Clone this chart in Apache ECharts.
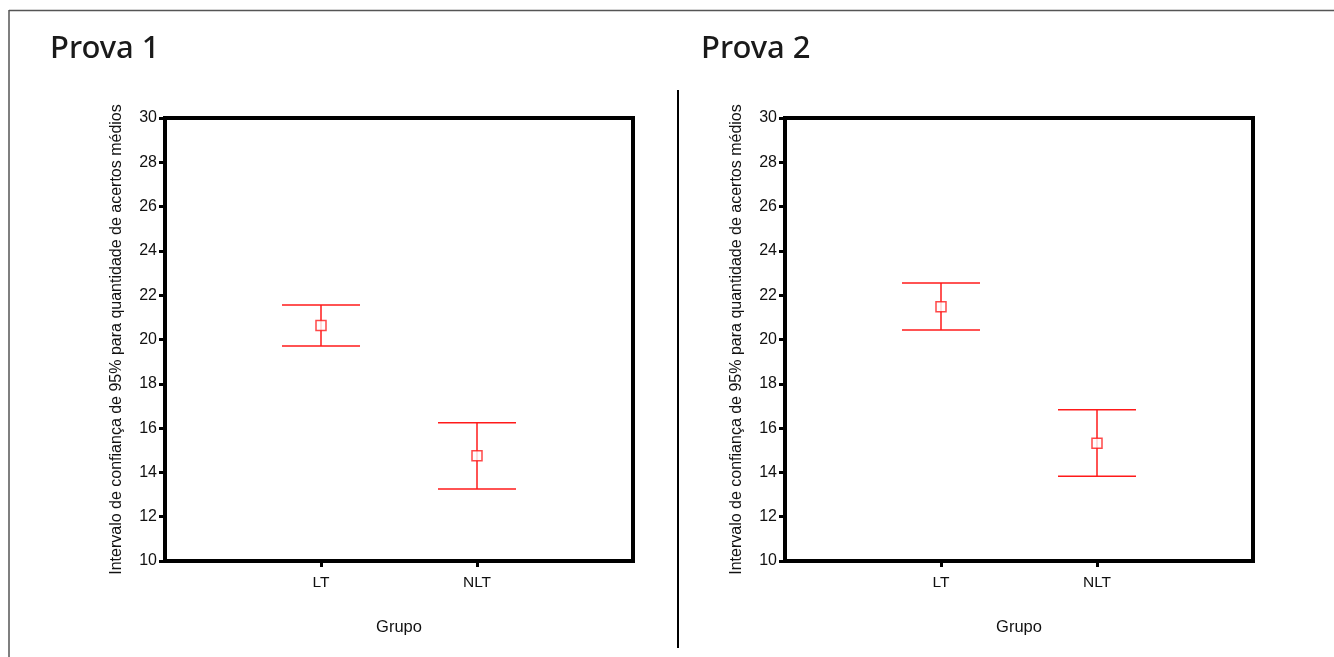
<!DOCTYPE html>
<html>
<head>
<meta charset="utf-8">
<script src="https://cdn.jsdelivr.net/npm/echarts@6/dist/echarts.min.js"></script>
<style>
html,body{margin:0;padding:0;background:#fff;}
#c{width:1334px;height:657px;}
</style>
</head>
<body>
<div id="c"></div>
<script>
const categories = ['', 'LT', 'NLT', ''];
const groups = ['LT', 'NLT'];
const yTicks = [10, 12, 14, 16, 18, 20, 22, 24, 26, 28, 30];
const prova1Mean = [20.63, 14.75];
const prova1Lower = [19.71, 13.25];
const prova1Upper = [21.56, 16.24];
const prova2Mean = [21.48, 15.32];
const prova2Lower = [20.43, 13.83];
const prova2Upper = [22.55, 16.83];
const titles = ['Prova 1', 'Prova 2'];
const yName = 'Intervalo de confiança de 95% para quantidade de acertos médios';
const xName = 'Grupo';

const chart = echarts.init(document.getElementById('c'), null, {renderer: 'canvas'});
const font = 'Liberation Sans, Arial, sans-serif';
const red = '#ff1a1a';

function errData(lower, upper) {
  return groups.map((g, i) => [g, lower[i], upper[i]]);
}
function meanData(mean) {
  return groups.map((g, i) => [g, mean[i]]);
}
function renderErr(params, api) {
  const x = api.value(0);
  const lo = api.coord([x, api.value(1)]);
  const hi = api.coord([x, api.value(2)]);
  const half = api.size([1, 0])[0] * 0.25;
  const style = {stroke: red, lineWidth: 1.5, fill: null};
  return {
    type: 'group',
    children: [
      {type: 'line', shape: {x1: lo[0], y1: lo[1], x2: hi[0], y2: hi[1]}, style},
      {type: 'line', shape: {x1: hi[0] - half, y1: hi[1], x2: hi[0] + half, y2: hi[1]}, style},
      {type: 'line', shape: {x1: lo[0] - half, y1: lo[1], x2: lo[0] + half, y2: lo[1]}, style}
    ]
  };
}
function xAxis(idx) {
  return {
    type: 'category', gridIndex: idx, data: categories, boundaryGap: false,
    name: xName, nameLocation: 'middle', nameGap: 58,
    nameTextStyle: {fontFamily: font, fontSize: 16.5, color: '#111'},
    axisLine: {show: false},
    axisTick: {show: true, length: 6, interval: (i, v) => v !== '', lineStyle: {color: '#000', width: 3}},
    axisLabel: {interval: 0, margin: 14, fontFamily: font, fontSize: 15.5, color: '#111'},
    splitLine: {show: false}
  };
}
function yAxis(idx) {
  return {
    type: 'value', gridIndex: idx, min: yTicks[0], max: yTicks[yTicks.length - 1], interval: 2,
    name: yName, nameLocation: 'middle', nameGap: 40, nameRotate: 90,
    nameTextStyle: {fontFamily: font, fontSize: 16, color: '#111'},
    axisLine: {show: false},
    axisTick: {show: true, length: 6, lineStyle: {color: '#000', width: 3}},
    axisLabel: {margin: 8, fontFamily: font, fontSize: 16, color: '#111'},
    splitLine: {show: false}
  };
}

const option = {
  backgroundColor: '#fff',
  animation: false,
  title: [
    {text: titles[0], left: 45, top: 29, textStyle: {fontFamily: 'Noto Sans', fontSize: 31, fontWeight: 500, color: '#1a1a1a'}},
    {text: titles[1], left: 696, top: 29, textStyle: {fontFamily: 'Noto Sans', fontSize: 31, fontWeight: 500, color: '#1a1a1a'}}
  ],
  grid: [
    {left: 165, right: 701, top: 118, bottom: 96, show: true, borderColor: '#000', borderWidth: 4, backgroundColor: 'transparent'},
    {left: 785, right: 81, top: 118, bottom: 96, show: true, borderColor: '#000', borderWidth: 4, backgroundColor: 'transparent'}
  ],
  xAxis: [xAxis(0), xAxis(1)],
  yAxis: [yAxis(0), yAxis(1)],
  graphic: [
    {type: 'line', shape: {x1: 9, y1: 10.5, x2: 1334, y2: 10.5}, style: {stroke: '#555', lineWidth: 1.5}},
    {type: 'line', shape: {x1: 9, y1: 10, x2: 9, y2: 657}, style: {stroke: '#555', lineWidth: 1.5}},
    {type: 'line', shape: {x1: 678, y1: 90, x2: 678, y2: 648}, style: {stroke: '#000', lineWidth: 2}}
  ],
  series: [
    {type: 'custom', xAxisIndex: 0, yAxisIndex: 0, data: errData(prova1Lower, prova1Upper), renderItem: renderErr, encode: {x: 0, y: [1, 2]}, z: 2},
    {type: 'scatter', xAxisIndex: 0, yAxisIndex: 0, data: meanData(prova1Mean), symbol: 'rect', symbolSize: 10,
      itemStyle: {color: '#fff', borderColor: red, borderWidth: 1.5}, z: 3},
    {type: 'custom', xAxisIndex: 1, yAxisIndex: 1, data: errData(prova2Lower, prova2Upper), renderItem: renderErr, encode: {x: 0, y: [1, 2]}, z: 2},
    {type: 'scatter', xAxisIndex: 1, yAxisIndex: 1, data: meanData(prova2Mean), symbol: 'rect', symbolSize: 10,
      itemStyle: {color: '#fff', borderColor: red, borderWidth: 1.5}, z: 3}
  ]
};
chart.setOption(option);
</script>
</body>
</html>
